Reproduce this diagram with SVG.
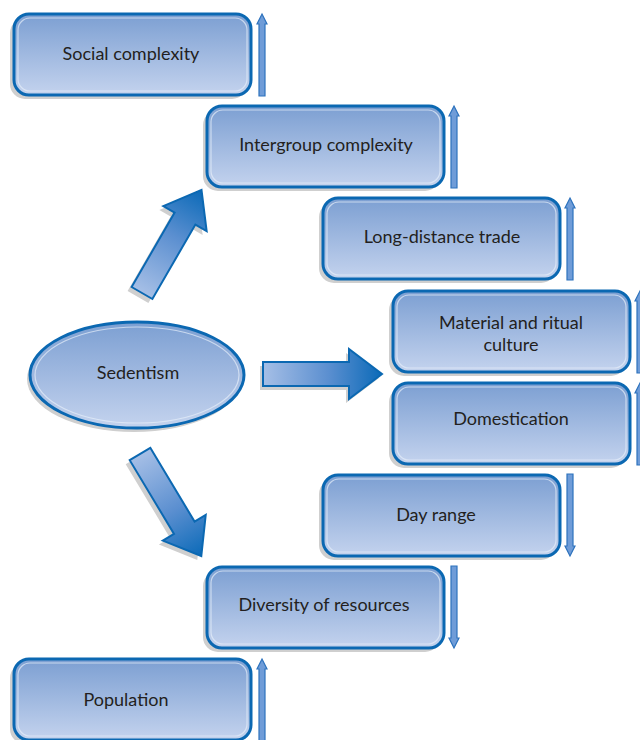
<svg xmlns="http://www.w3.org/2000/svg" width="640" height="740" viewBox="0 0 640 740">
  <defs>
    <linearGradient id="boxFill" x1="0" y1="0" x2="0" y2="1">
      <stop offset="0" stop-color="#7c9fd2"/>
      <stop offset="1" stop-color="#c4d3ee"/>
    </linearGradient>
    <linearGradient id="bigArrow" x1="0" y1="0" x2="1" y2="0">
      <stop offset="0" stop-color="#a6bfe6"/>
      <stop offset="0.55" stop-color="#5b8fd0"/>
      <stop offset="1" stop-color="#0b6ab8"/>
    </linearGradient>
    <!-- thin vertical trend arrow, pointing up, local origin at tip centre -->
    <path id="upArrow" d="M0,0 L5,10 L3,10 L3,82 L-3,82 L-3,10 L-5,10 Z"/>
    <!-- big arrow pointing right, origin at tail centre -->
    <path id="bigArrowShape" d="M0,-12 L86,-12 L86,-25 L119,0 L86,25 L86,12 L0,12 Z"/>
  </defs>
  <style>
    .shadow { fill: #cfcfcf; }
    .box { fill: url(#boxFill); stroke: #0b68b2; stroke-width: 3; }
    .rim { fill: none; stroke: #e6eefa; stroke-opacity: 0.7; stroke-width: 1.2; }
    .label { font-family: "Lato", "Open Sans", sans-serif; font-size: 18px; fill: #231f20; text-anchor: middle; }
    .trend { fill: #6f9cd8; stroke: #2d72bd; stroke-width: 1.2; }
    .big { fill: url(#bigArrow); stroke: #0b68b2; stroke-width: 2; }
    .bigShadow { fill: #cfcfcf; }
  </style>

  <!-- connectors: big directional arrows from Sedentism -->
  <g id="connectors">
    <use href="#bigArrowShape" class="bigShadow" transform="translate(138,297) rotate(-60)"/>
    <use href="#bigArrowShape" class="big" transform="translate(142,293) rotate(-60)"/>
    <use href="#bigArrowShape" class="bigShadow" transform="translate(260,378)"/>
    <use href="#bigArrowShape" class="big" transform="translate(263,374)"/>
    <use href="#bigArrowShape" class="bigShadow" transform="translate(136,458) rotate(59)"/>
    <use href="#bigArrowShape" class="big" transform="translate(140,454) rotate(59)"/>
  </g>

  <g id="sedentism">
    <ellipse class="shadow" cx="134" cy="379" rx="107" ry="53"/>
    <ellipse class="box" cx="137" cy="375" rx="107" ry="53"/>
    <ellipse class="rim" cx="137" cy="375" rx="102" ry="48"/>
    <text class="label" x="138" y="379">Sedentism</text>
  </g>

  <g id="social-complexity">
    <rect class="shadow" x="10" y="18" width="237" height="81" rx="15"/>
    <rect class="box" x="14" y="14" width="237" height="81" rx="15"/>
    <rect class="rim" x="18" y="18" width="229" height="73" rx="12"/>
    <text class="label" x="131" y="60">Social complexity</text>
    <use href="#upArrow" class="trend" transform="translate(262,14)"/>
  </g>

  <g id="intergroup-complexity">
    <rect class="shadow" x="203" y="110" width="237" height="81" rx="15"/>
    <rect class="box" x="207" y="106" width="237" height="81" rx="15"/>
    <rect class="rim" x="211" y="110" width="229" height="73" rx="12"/>
    <text class="label" x="326" y="151">Intergroup complexity</text>
    <use href="#upArrow" class="trend" transform="translate(454,106)"/>
  </g>

  <g id="long-distance-trade">
    <rect class="shadow" x="319" y="202" width="237" height="81" rx="15"/>
    <rect class="box" x="323" y="198" width="237" height="81" rx="15"/>
    <rect class="rim" x="327" y="202" width="229" height="73" rx="12"/>
    <text class="label" x="442" y="243">Long-distance trade</text>
    <use href="#upArrow" class="trend" transform="translate(570,198)"/>
  </g>

  <g id="material-ritual-culture">
    <rect class="shadow" x="389" y="295" width="237" height="81" rx="15"/>
    <rect class="box" x="393" y="291" width="237" height="81" rx="15"/>
    <rect class="rim" x="397" y="295" width="229" height="73" rx="12"/>
    <text class="label" x="511" y="329">Material and ritual</text>
    <text class="label" x="511" y="351">culture</text>
    <use href="#upArrow" class="trend" transform="translate(640,291)"/>
  </g>

  <g id="domestication">
    <rect class="shadow" x="389" y="387" width="237" height="81" rx="15"/>
    <rect class="box" x="393" y="383" width="237" height="81" rx="15"/>
    <rect class="rim" x="397" y="387" width="229" height="73" rx="12"/>
    <text class="label" x="511" y="425">Domestication</text>
    <use href="#upArrow" class="trend" transform="translate(640,383)"/>
  </g>

  <g id="day-range">
    <rect class="shadow" x="319" y="479" width="237" height="81" rx="15"/>
    <rect class="box" x="323" y="475" width="237" height="81" rx="15"/>
    <rect class="rim" x="327" y="479" width="229" height="73" rx="12"/>
    <text class="label" x="436" y="521">Day range</text>
    <use href="#upArrow" class="trend" transform="translate(570,556) rotate(180)"/>
  </g>

  <g id="diversity-of-resources">
    <rect class="shadow" x="203" y="571" width="237" height="81" rx="15"/>
    <rect class="box" x="207" y="567" width="237" height="81" rx="15"/>
    <rect class="rim" x="211" y="571" width="229" height="73" rx="12"/>
    <text class="label" x="324" y="611">Diversity of resources</text>
    <use href="#upArrow" class="trend" transform="translate(454,648) rotate(180)"/>
  </g>

  <g id="population">
    <rect class="shadow" x="10" y="663" width="237" height="81" rx="15"/>
    <rect class="box" x="14" y="659" width="237" height="81" rx="15"/>
    <rect class="rim" x="18" y="663" width="229" height="73" rx="12"/>
    <text class="label" x="126" y="706">Population</text>
    <use href="#upArrow" class="trend" transform="translate(262,659)"/>
  </g>
</svg>
